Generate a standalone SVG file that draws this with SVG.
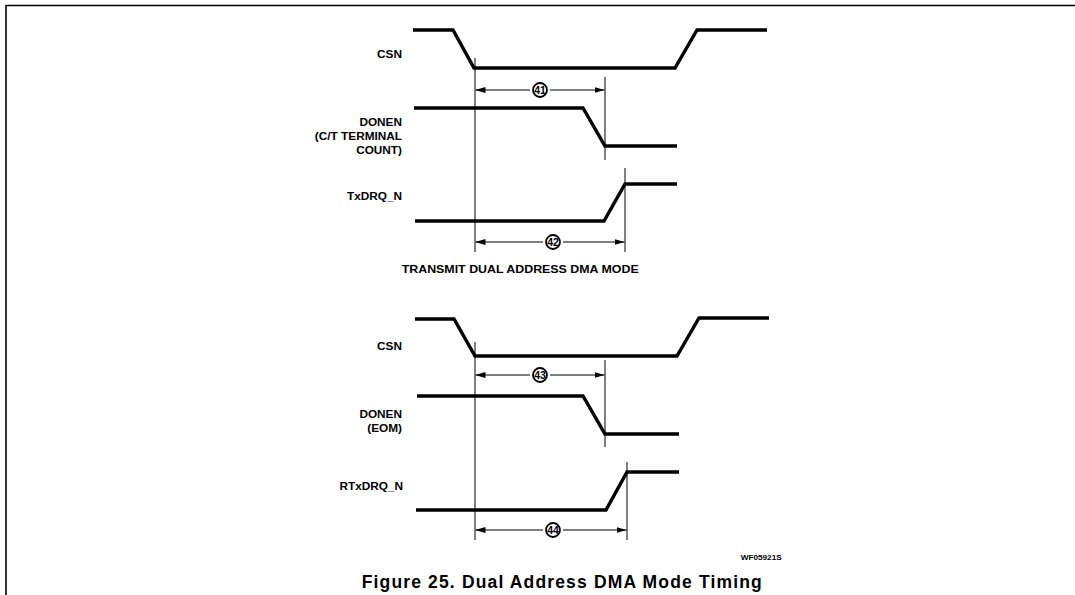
<svg xmlns="http://www.w3.org/2000/svg" width="1075" height="595" viewBox="0 0 1075 595">
<style>
.sig{fill:none;stroke:#000;stroke-width:3.4;stroke-linejoin:miter}
.ref{fill:none;stroke:#000;stroke-width:1}
.dim{fill:none;stroke:#000;stroke-width:1}
.lbl{font-family:"Liberation Sans",Arial,sans-serif;font-weight:bold;font-size:11.8px;fill:#000;text-anchor:end}
.num{font-family:"Liberation Sans",Arial,sans-serif;font-weight:bold;font-size:10.5px;fill:#000;text-anchor:middle}
.circ{fill:#fff;stroke:#000;stroke-width:1.8}
.frame{fill:none;stroke:#000;stroke-width:1.6}
</style>
<defs>
<marker id="ah" viewBox="0 0 10 6" refX="10" refY="3" markerWidth="10" markerHeight="6" markerUnits="userSpaceOnUse" orient="auto-start-reverse">
<path d="M0,0 L10,3 L0,6 z" fill="#000"/>
</marker>
</defs>
<rect width="1075" height="595" fill="#fff"/>
<path class="frame" d="M1075,5.5 L6,5.5 L6,595"/>

<g id="connectors">
<line class="ref" x1="475" y1="58" x2="475" y2="252"/>
<line class="ref" x1="605" y1="77" x2="605" y2="160"/>
<line class="ref" x1="625" y1="168" x2="625" y2="252"/>
<line class="ref" x1="475" y1="342" x2="475" y2="540"/>
<line class="ref" x1="605" y1="360" x2="605" y2="447"/>
<line class="ref" x1="627" y1="462" x2="627" y2="540"/>
<line class="dim" x1="475.5" y1="90" x2="530" y2="90" marker-start="url(#ah)"/>
<line class="dim" x1="550" y1="90" x2="604.5" y2="90" marker-end="url(#ah)"/>
<line class="dim" x1="475.5" y1="242" x2="543" y2="242" marker-start="url(#ah)"/>
<line class="dim" x1="563" y1="242" x2="624.5" y2="242" marker-end="url(#ah)"/>
<line class="dim" x1="475.5" y1="375" x2="530" y2="375" marker-start="url(#ah)"/>
<line class="dim" x1="550" y1="375" x2="604.5" y2="375" marker-end="url(#ah)"/>
<line class="dim" x1="475.5" y1="530" x2="543" y2="530" marker-start="url(#ah)"/>
<line class="dim" x1="563" y1="530" x2="626.5" y2="530" marker-end="url(#ah)"/>
</g>

<g id="tx-csn">
<path class="sig" d="M413,30 L453,30 L474,68 L675,68 L697,30 L767,30"/>
<text class="lbl" x="402" y="58">CSN</text>
</g>
<g id="tx-donen">
<path class="sig" d="M414,108 L583,108 L605,146 L677,146"/>
<text class="lbl" x="402" y="126">DONEN</text>
<text class="lbl" x="402" y="140">(C/T TERMINAL</text>
<text class="lbl" x="402" y="154">COUNT)</text>
</g>
<g id="tx-txdrq">
<path class="sig" d="M415,221 L604,221 L625,184 L677,184"/>
<text class="lbl" x="402" y="200">TxDRQ_N</text>
</g>
<g id="t41">
<circle class="circ" cx="540" cy="90" r="7"/>
<text class="num" x="540" y="93.7">41</text>
</g>
<g id="t42">
<circle class="circ" cx="553" cy="242" r="7"/>
<text class="num" x="553" y="245.7">42</text>
</g>
<g id="tx-title">
<text class="lbl" x="401.7" y="273" style="text-anchor:start" textLength="237" lengthAdjust="spacingAndGlyphs">TRANSMIT DUAL ADDRESS DMA MODE</text>
</g>

<g id="rx-csn">
<path class="sig" d="M415,319 L454,319 L475,356 L677,356 L699,318 L769,318"/>
<text class="lbl" x="402" y="350">CSN</text>
</g>
<g id="rx-donen">
<path class="sig" d="M417,396 L583,396 L605,434 L679,434"/>
<text class="lbl" x="402" y="418">DONEN</text>
<text class="lbl" x="402" y="432">(EOM)</text>
</g>
<g id="rx-rtxdrq">
<path class="sig" d="M416,510 L606,510 L627,472 L679,472"/>
<text class="lbl" x="403" y="490">RTxDRQ_N</text>
</g>
<g id="t43">
<circle class="circ" cx="540" cy="375" r="7"/>
<text class="num" x="540" y="378.7">43</text>
</g>
<g id="t44">
<circle class="circ" cx="553" cy="530" r="7"/>
<text class="num" x="553" y="533.7">44</text>
</g>

<g id="drawing-id">
<text x="740.7" y="559.5" style="font-family:'Liberation Sans',Arial,sans-serif;font-weight:bold;font-size:8px" textLength="41" lengthAdjust="spacingAndGlyphs">WF05921S</text>
</g>
<g id="caption">
<text x="361.7" y="588" style="font-family:'Liberation Sans',Arial,sans-serif;font-weight:bold;font-size:17.5px" textLength="400" lengthAdjust="spacing">Figure 25. Dual Address DMA Mode Timing</text>
</g>
</svg>
